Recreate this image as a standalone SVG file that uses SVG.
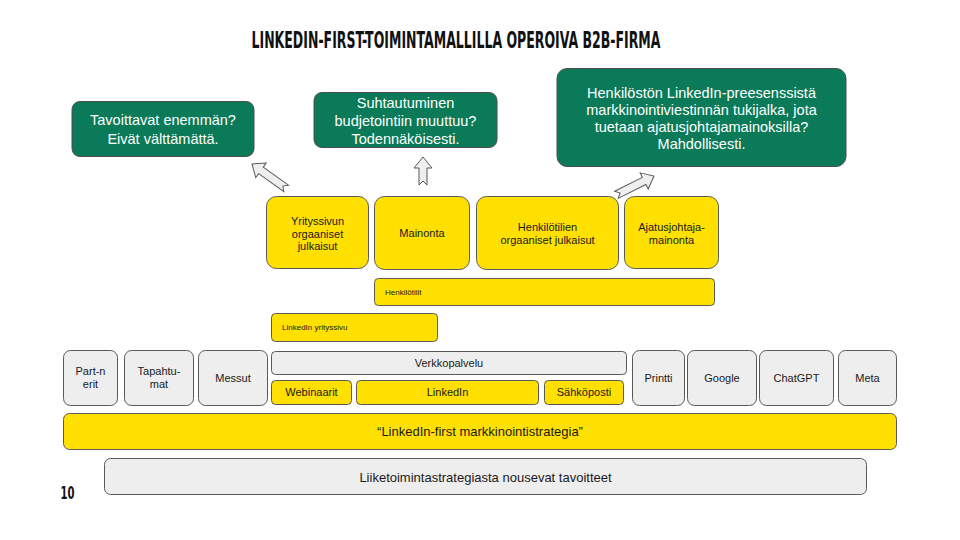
<svg xmlns="http://www.w3.org/2000/svg" width="960" height="540" viewBox="0 0 960 540">
<style>
text{font-family:"Liberation Sans",Arial,sans-serif;fill:#1a1a1a;text-anchor:middle}
.g rect{fill:#0b7a58;stroke:#4d4d4d;stroke-width:1}
.g text{fill:#ffffff;font-size:14.5px}
.y rect{fill:#ffe000;stroke:#595959;stroke-width:1}
.n rect{fill:#eeeeee;stroke:#595959;stroke-width:1}
.s{font-size:11px}
.xs{font-size:8px;text-anchor:start}
.m{font-size:13px}
.arr use{fill:#efefef;stroke:#595959;stroke-width:1}
.ttl{font-family:"DejaVu Sans Condensed","DejaVu Sans",sans-serif;font-weight:bold;fill:#111}
</style>
<defs>
<polygon id="ar" points="0,0 9,11 4,11 4,28 0,24 -4,28 -4,11 -9,11"/>
<polygon id="ar2" points="0,0 9,11 4,11 4,42 0,38 -4,42 -4,11 -9,11"/>
</defs>
<rect width="960" height="540" fill="#ffffff"/>
<text class="ttl" x="456" y="48" font-size="23" textLength="409" lengthAdjust="spacingAndGlyphs">LINKEDIN-FIRST-TOIMINTAMALLILLA OPEROIVA B2B-FIRMA</text>
<text class="ttl" x="67.5" y="499" font-size="17" textLength="14" lengthAdjust="spacingAndGlyphs">10</text>

<g id="q1" class="g"><rect x="72" y="101.5" width="182" height="55" rx="8"/><text x="163" y="125">Tavoittavat enemmän?</text><text x="163" y="144">Eivät välttämättä.</text></g>
<g id="q2" class="g"><rect x="314" y="92.5" width="183" height="55" rx="8"/><text x="405.5" y="108">Suhtautuminen</text><text x="405.5" y="126">budjetointiin muuttuu?</text><text x="405.5" y="144">Todennäköisesti.</text></g>
<g id="q3" class="g"><rect x="557" y="68.5" width="289" height="98" rx="10"/><text x="701.5" y="98">Henkilöstön LinkedIn-preesenssistä</text><text x="701.5" y="115">markkinointiviestinnän tukijalka, jota</text><text x="701.5" y="132">tuetaan ajatusjohtajamainoksilla?</text><text x="701.5" y="149">Mahdollisesti.</text></g>

<g id="connectors" class="arr">
<use href="#ar2" transform="translate(252,164) rotate(-54.5)"/>
<use href="#ar" transform="translate(423,157)"/>
<use href="#ar2" transform="translate(654,176) rotate(63.4)"/>
</g>

<g id="yrityssivun" class="y"><rect x="266.5" y="196.5" width="102" height="72" rx="10"/><text class="s" x="317.5" y="225">Yrityssivun</text><text class="s" x="317.5" y="237.5">orgaaniset</text><text class="s" x="317.5" y="250">julkaisut</text></g>
<g id="mainonta" class="y"><rect x="374.5" y="196.5" width="95" height="73" rx="10"/><text class="s" x="422" y="237">Mainonta</text></g>
<g id="henkilotilien" class="y"><rect x="476.5" y="196.5" width="142" height="73" rx="10"/><text class="s" x="547.5" y="231">Henkilötilien</text><text class="s" x="547.5" y="244">orgaaniset julkaisut</text></g>
<g id="ajatus" class="y"><rect x="624.5" y="196.5" width="94" height="72" rx="10"/><text class="s" x="671.5" y="231">Ajatusjohtaja-</text><text class="s" x="671.5" y="244">mainonta</text></g>
<g id="henkilotilit" class="y"><rect x="374.5" y="278.5" width="340" height="27" rx="4"/><text class="xs" x="385" y="295">Henkilötilit</text></g>
<g id="yrityssivu" class="y"><rect x="271.5" y="313.5" width="166" height="28" rx="4"/><text class="xs" x="282" y="330">LinkedIn yrityssivu</text></g>

<g id="partnerit" class="n"><rect x="63.5" y="350.5" width="54" height="55" rx="7"/><text class="s" x="90.5" y="375">Part-n</text><text class="s" x="90.5" y="388">erit</text></g>
<g id="tapahtumat" class="n"><rect x="124.5" y="350.5" width="69" height="55" rx="7"/><text class="s" x="159" y="375">Tapahtu-</text><text class="s" x="159" y="388">mat</text></g>
<g id="messut" class="n"><rect x="198.5" y="350.5" width="69" height="55" rx="7"/><text class="s" x="233" y="382">Messut</text></g>
<g id="verkkopalvelu" class="n"><rect x="271.5" y="351.5" width="355" height="23" rx="4"/><text class="s" x="449" y="367">Verkkopalvelu</text></g>
<g id="webinaarit" class="y"><rect x="271.5" y="380.5" width="80" height="24" rx="4"/><text class="s" x="311.5" y="396">Webinaarit</text></g>
<g id="linkedin" class="y"><rect x="356.5" y="380.5" width="182" height="24" rx="4"/><text class="s" x="447.5" y="396">LinkedIn</text></g>
<g id="sahkoposti" class="y"><rect x="544.5" y="380.5" width="79" height="24" rx="4"/><text class="s" x="584" y="396">Sähköposti</text></g>
<g id="printti" class="n"><rect x="632.5" y="350.5" width="52" height="55" rx="7"/><text class="s" x="658.5" y="382">Printti</text></g>
<g id="google" class="n"><rect x="687.5" y="350.5" width="69" height="55" rx="7"/><text class="s" x="722" y="382">Google</text></g>
<g id="chatgpt" class="n"><rect x="759.5" y="350.5" width="74" height="55" rx="7"/><text class="s" x="796.5" y="382">ChatGPT</text></g>
<g id="meta" class="n"><rect x="838.5" y="350.5" width="58" height="55" rx="7"/><text class="s" x="867.5" y="382">Meta</text></g>

<g id="strategia" class="y"><rect x="63.5" y="413.5" width="833" height="36" rx="6"/><text class="m" x="480" y="436">“LinkedIn-first markkinointistrategia”</text></g>
<g id="tavoitteet" class="n"><rect x="104.5" y="458.5" width="762" height="36" rx="6"/><text class="m" x="485.5" y="481.5">Liiketoimintastrategiasta nousevat tavoitteet</text></g>
</svg>
